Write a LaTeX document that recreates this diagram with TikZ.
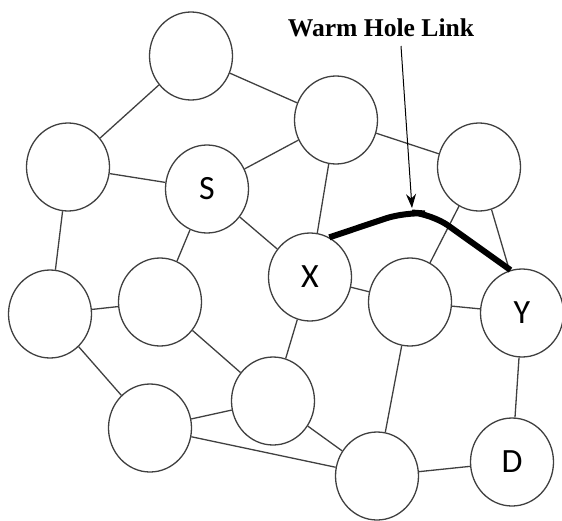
\documentclass[tikz,border=0pt]{standalone}
\usepackage{fontspec}
\setmainfont{Liberation Serif}
\newfontfamily\labelfont{Carlito}
\usetikzlibrary{shapes.geometric,arrows.meta}

\tikzset{
  peer/.style={ellipse, draw=black!75, line width=0.65pt, fill=white,
    minimum width=41.5pt, minimum height=44pt, inner sep=0pt,
    font=\labelfont\fontsize{17}{17}\selectfont},
  hop/.style={draw=black!75, line width=0.65pt},
  wormhole/.style={draw=black, line width=3pt, rounded corners=10pt},
}

\begin{document}
\begin{tikzpicture}[x=0.5pt, y=-0.5pt]
  \useasboundingbox (0,0) rectangle (562,520);

  % nodes, placed in pixel units
  \node[peer] (top) at (191,56) {};
  \node[peer] (tm) at (336,120) {};
  \node[peer] (lu) at (68,167) {};
  \node[peer] (s) at (207,189) {S};
  \node[peer] (ru) at (479,167) {};
  \node[peer] (x) at (310,277) {X};
  \node[peer] (lm) at (50,314) {};
  \node[peer] (ml) at (160,302) {};
  \node[peer] (mr) at (410,302) {};
  \node[peer] (y) at (522,313) {Y};
  \node[peer] (lo) at (273,401) {};
  \node[peer] (ll) at (150,428) {};
  \node[peer] (bo) at (377,476) {};
  \node[peer] (d) at (512,462) {D};

  % ordinary links
  \draw[hop] (top) -- (lu);
  \draw[hop] (top) -- (tm);
  \draw[hop] (lu) -- (s);
  \draw[hop] (lu) -- (lm);
  \draw[hop] (s) -- (tm);
  \draw[hop] (s) -- (x);
  \draw[hop] (s) -- (ml);
  \draw[hop] (tm) -- (x);
  \draw[hop] (tm) -- (ru);
  \draw[hop] (ru) -- (mr);
  \draw[hop] (ru) -- (y);
  \draw[hop] (x) -- (mr);
  \draw[hop] (x) -- (lo);
  \draw[hop] (mr) -- (y);
  \draw[hop] (mr) -- (bo);
  \draw[hop] (y) -- (d);
  \draw[hop] (lm) -- (ml);
  \draw[hop] (lm) -- (ll);
  \draw[hop] (ml) -- (lo);
  \draw[hop] (ll) -- (lo);
  \draw[hop] (ll) -- (bo);
  \draw[hop] (lo) -- (bo);
  \draw[hop] (bo) -- (d);

  % the tunnel between X and Y
  \draw[wormhole] (x.64) -- (405,212) -- (432,214) -- (y.105);

  \node[font=\bfseries\fontsize{12.8}{14}\selectfont] (title) at (381,28) {Warm Hole Link};
  \coordinate (tip) at (412,208);
  \draw[line width=0.5pt, -{Stealth[length=7pt,width=5pt]}] (401,46) -- (tip);
\end{tikzpicture}
\end{document}
